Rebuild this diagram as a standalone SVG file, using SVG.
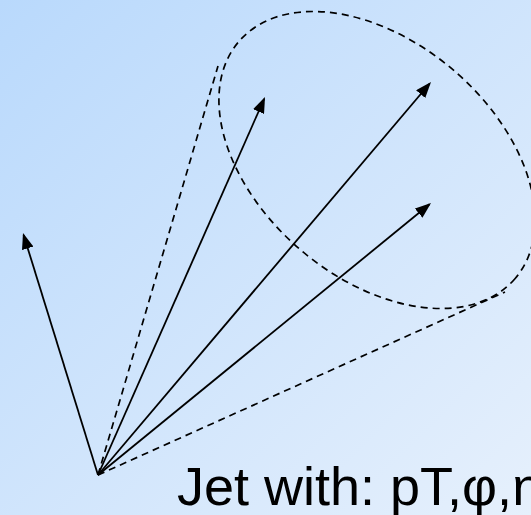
<svg xmlns="http://www.w3.org/2000/svg" width="531" height="515" viewBox="0 0 531 515">
  <defs>
    <linearGradient id="bg" x1="0" y1="0" x2="1" y2="1">
      <stop offset="0" stop-color="#b9d9fc"/>
      <stop offset="1" stop-color="#e6f0fc"/>
    </linearGradient>
    <marker id="arrow" viewBox="0 0 16 12" markerWidth="16" markerHeight="12" refX="14" refY="6" orient="auto" markerUnits="userSpaceOnUse">
      <path d="M0,0 L16,6 L0,12 z" fill="#000"/>
    </marker>
  </defs>
  <style>
    .vec { stroke: #000; stroke-width: 1.8; fill: none; marker-end: url(#arrow); }
    .dash { stroke: #000; stroke-width: 1.7; fill: none; stroke-dasharray: 7 5; }
    .label { font-family: "Liberation Sans", Arial, sans-serif; font-size: 54px; fill: #000; }
  </style>
  <rect x="0" y="0" width="531" height="515" fill="url(#bg)"/>
  <g id="cone">
    <ellipse class="dash" cx="377" cy="160" rx="182" ry="118" transform="rotate(40.6 377 160)"/>
    <line class="dash" x1="98" y1="475" x2="218" y2="66"/>
    <line class="dash" x1="98" y1="475" x2="505" y2="292"/>
  </g>
  <g id="connectors">
    <line class="vec" x1="98" y1="475" x2="23.6" y2="234.9"/>
    <line class="vec" x1="98" y1="475" x2="264.2" y2="98.8"/>
    <line class="vec" x1="98" y1="475" x2="429.7" y2="83.5"/>
    <line class="vec" x1="98" y1="475" x2="429.5" y2="204.3"/>
  </g>
  <g id="label">
    <text class="label" x="177" y="505">Jet with: pT,φ,η</text>
  </g>
</svg>
